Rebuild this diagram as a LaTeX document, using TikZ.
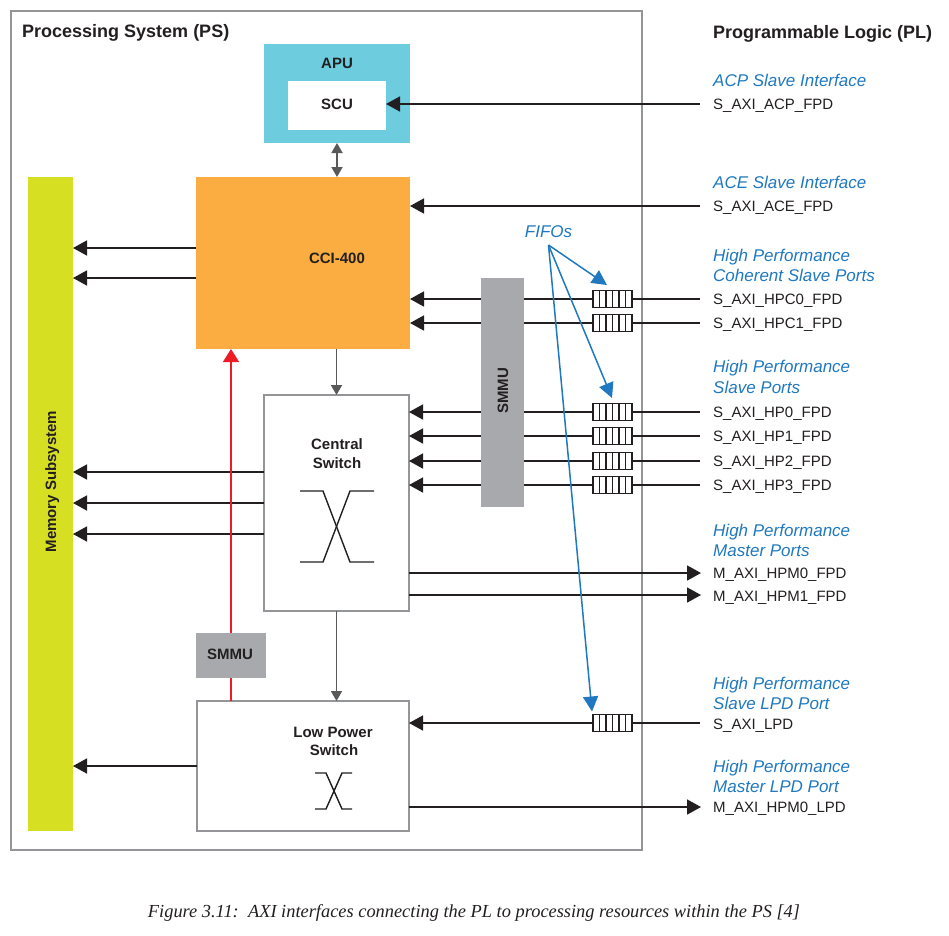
\documentclass[tikz,border=0pt]{standalone}
\usepackage{fontspec}
\usepackage{graphicx}
\setmainfont{Liberation Sans}
\newfontfamily\capfont{Liberation Serif}
\usetikzlibrary{arrows.meta}
\definecolor{ink}{HTML}{231F20}
\definecolor{apuc}{HTML}{6DCCDD}
\definecolor{ccic}{HTML}{FBAD41}
\definecolor{memc}{HTML}{D7DF23}
\definecolor{smmuc}{HTML}{A7A9AC}
\definecolor{boxline}{HTML}{939598}
\definecolor{grayarr}{HTML}{58595B}
\definecolor{redc}{HTML}{ED1C24}
\definecolor{bluec}{HTML}{2079C0}
\begin{document}
\begin{tikzpicture}[x=1pt,y=-1pt,
  blk/.style={draw=none, inner sep=0pt, outer sep=0pt, anchor=north west},
  swbox/.style={draw=boxline, line width=1.5pt, fill=white, inner sep=0pt, outer sep=0pt, anchor=north west},
  boxlbl/.style={font=\bfseries\fontsize{15}{18}\selectfont, text=ink, inner sep=0pt, anchor=base},
  title/.style={font=\bfseries\fontsize{18}{21}\selectfont, text=ink, inner sep=0pt, anchor=base west},
  port/.style={font=\fontsize{15}{18}\selectfont, text=ink, inner sep=0pt, anchor=base west},
  blbl/.style={font=\itshape\fontsize{17}{20}\selectfont, text=bluec, inner sep=0pt, anchor=base west},
  pline/.style={draw=ink, line width=1.7pt},
  inarr/.style={pline, -{Triangle[length=14pt,width=15pt]}},
  garr/.style={draw=grayarr, line width=1.8pt, -{Triangle[length=10pt,width=11pt]}},
  gdarr/.style={draw=grayarr, line width=1.8pt, {Triangle[length=10pt,width=11pt]}-{Triangle[length=10pt,width=11pt]}},
  redarr/.style={draw=redc, line width=1.5pt, -{Triangle[length=13pt,width=16pt]}},
  barr/.style={draw=bluec, line width=1.5pt, -{Triangle[length=15pt,width=15pt]}},
  cross/.style={draw=ink, line width=1.4pt},
  fifo/.style={draw=ink, line width=1.1pt, fill=white, minimum width=39pt, minimum height=17pt,
    inner sep=0pt, outer sep=0pt,
    path picture={\foreach \k in {1,...,5}{\draw[ink, line width=1.1pt]
      ([xshift=\k*6.5pt]path picture bounding box.south west) --
      ([xshift=\k*6.5pt]path picture bounding box.north west);}}}
]
\useasboundingbox (0,0) rectangle (949,935);
\fill[white] (0,0) rectangle (949,935);

% PS frame
\node[draw=boxline, line width=1.5pt, minimum width=631pt, minimum height=839pt,
  anchor=north west, inner sep=0pt] (ps) at (10,10) {};

% main blocks
\node[blk, fill=memc, minimum width=45pt, minimum height=654pt] (mem) at (28,177) {};
\node[blk, fill=apuc, minimum width=146pt, minimum height=99pt] (apu) at (264,44) {};
\node[blk, fill=white, minimum width=98pt, minimum height=49pt] (scu) at (288,81) {};
\node[blk, fill=ccic, minimum width=214pt, minimum height=172pt] (cci) at (196,177) {};
\node[swbox, minimum width=145pt, minimum height=216pt] (cs) at (264,395) {};
\node[swbox, minimum width=212pt, minimum height=130pt] (lp) at (197,701) {};

% row coordinates
\coordinate (pACP) at (700,104);
\coordinate (pACE) at (700,206);
\coordinate (pHPC0) at (700,299);
\coordinate (pHPC1) at (700,323);
\coordinate (pHP0) at (700,412);
\coordinate (pHP1) at (700,436);
\coordinate (pHP2) at (700,461);
\coordinate (pHP3) at (700,485);
\coordinate (pHPM0) at (701,573);
\coordinate (pHPM1) at (701,595);
\coordinate (pLPD) at (700,723);
\coordinate (pHPML) at (701,807);
\coordinate (m1) at (0,248);
\coordinate (m2) at (0,278);
\coordinate (m3) at (0,472);
\coordinate (m4) at (0,503);
\coordinate (m5) at (0,534);
\coordinate (m6) at (0,766);
\coordinate (redx) at (231,0);

% PL input lines
\draw[inarr] (pACP) -- (scu.east |- pACP);
\draw[inarr] (pACE) -- (cci.east |- pACE);
\draw[inarr] (pHPC0) -- (cci.east |- pHPC0);
\draw[inarr] (pHPC1) -- (cci.east |- pHPC1);
\draw[inarr] (pHP0) -- (cs.east |- pHP0);
\draw[inarr] (pHP1) -- (cs.east |- pHP1);
\draw[inarr] (pHP2) -- (cs.east |- pHP2);
\draw[inarr] (pHP3) -- (cs.east |- pHP3);
\draw[inarr] (pLPD) -- (lp.east |- pLPD);
% master outputs
\draw[inarr] (cs.east |- pHPM0) -- (pHPM0);
\draw[inarr] (cs.east |- pHPM1) -- (pHPM1);
\draw[inarr] (lp.east |- pHPML) -- (pHPML);
% to memory
\draw[inarr] (cci.west |- m1) -- (mem.east |- m1);
\draw[inarr] (cci.west |- m2) -- (mem.east |- m2);
\draw[inarr] (cs.west |- m3) -- (mem.east |- m3);
\draw[inarr] (cs.west |- m4) -- (mem.east |- m4);
\draw[inarr] (cs.west |- m5) -- (mem.east |- m5);
\draw[inarr] (lp.west |- m6) -- (mem.east |- m6);

% SMMU blocks
\node[blk, fill=smmuc, minimum width=43pt, minimum height=229pt] (smmub) at (481,278) {};
\draw[redarr] (lp.north -| redx) -- (cci.south -| redx);
\node[blk, fill=smmuc, minimum width=70pt, minimum height=45pt] (smmus) at (196,633) {};

% gray internal arrows
\draw[gdarr] (apu.south) -- (cci.north -| apu.south);
\draw[garr] (cci.south -| cs.north) -- (cs.north);
\draw[garr] (cs.south) -- (lp.north -| cs.south);

% FIFOs
\node[fifo] (fHPC0) at (612.5,299) {};
\node[fifo] (fHPC1) at (612.5,323) {};
\node[fifo] (fHP0) at (612.5,412) {};
\node[fifo] (fHP1) at (612.5,436) {};
\node[fifo] (fHP2) at (612.5,461) {};
\node[fifo] (fHP3) at (612.5,485) {};
\node[fifo] (fLPD) at (612.5,723) {};

% switch symbols
\draw[cross] (300,491) -- (323,491) -- (350,562) -- (374,562);
\draw[cross] (300,562) -- (323,562) -- (350,491) -- (374,491);
\draw[cross] (315,773) -- (326,773) -- (342,809) -- (352,809);
\draw[cross] (315,809) -- (326,809) -- (342,773) -- (352,773);

% block labels
\node[boxlbl] (tAPU) at (337,68.4) {APU};
\node[boxlbl] (tSCU) at (337,109.4) {SCU};
\node[boxlbl] (tCCI) at (337,263.4) {CCI-400};
\node[boxlbl] (tCS1) at (337,449) {Central};
\node[boxlbl] (tCS2) at (337,468) {Switch};
\node[boxlbl] (tLP1) at (333,737) {Low Power};
\node[boxlbl] (tLP2) at (334,755) {Switch};
\node[boxlbl] (tSMs) at (230,659) {SMMU};
\node[boxlbl, rotate=90] (tSMb) at (508,391) {SMMU};
\node[boxlbl, rotate=90] (tMem) at (56,481.5) {Memory Subsystem};

% titles
\node[title] (tPS) at (22,37.7) {Processing System (PS)};
\node[title] (tPL) at (713,38) {Programmable Logic (PL)};

% blue interface labels
\node[blbl] (b1) at (713,86) {ACP Slave Interface};
\node[blbl] (b2) at (713,188) {ACE Slave Interface};
\node[blbl] (b3a) at (713,261) {High Performance};
\node[blbl] (b3b) at (713,281) {Coherent Slave Ports};
\node[blbl] (b4a) at (713,372) {High Performance};
\node[blbl] (b4b) at (713,393) {Slave Ports};
\node[blbl] (b5a) at (713,536) {High Performance};
\node[blbl] (b5b) at (713,556) {Master Ports};
\node[blbl] (b6a) at (713,689) {High Performance};
\node[blbl] (b6b) at (713,709) {Slave LPD Port};
\node[blbl] (b7a) at (713,772) {High Performance};
\node[blbl] (b7b) at (713,792) {Master LPD Port};

% port names
\node[port] (n1) at (713,109.5) {S\_AXI\_ACP\_FPD};
\node[port] (n2) at (713,211.5) {S\_AXI\_ACE\_FPD};
\node[port] (n3) at (713,304.5) {S\_AXI\_HPC0\_FPD};
\node[port] (n4) at (713,328.5) {S\_AXI\_HPC1\_FPD};
\node[port] (n5) at (713,417.5) {S\_AXI\_HP0\_FPD};
\node[port] (n6) at (713,441.5) {S\_AXI\_HP1\_FPD};
\node[port] (n7) at (713,466.5) {S\_AXI\_HP2\_FPD};
\node[port] (n8) at (713,490.5) {S\_AXI\_HP3\_FPD};
\node[port] (n9) at (713,578.5) {M\_AXI\_HPM0\_FPD};
\node[port] (n10) at (713,601.5) {M\_AXI\_HPM1\_FPD};
\node[port] (n11) at (713,729.5) {S\_AXI\_LPD};
\node[port] (n12) at (713,812.5) {M\_AXI\_HPM0\_LPD};

% FIFOs callout
\node[blbl, anchor=base] (tFIFO) at (548.5,237) {FIFOs};
\coordinate (fo) at ([yshift=-8pt]tFIFO.base);
\draw[barr] (fo) -- ([xshift=-5.5pt,yshift=5.5pt]fHPC0.north);
\draw[barr] (fo) -- ([xshift=-0.5pt,yshift=5.5pt]fHP0.north);
\draw[barr] (fo) -- ([xshift=-1pt,yshift=3pt]fLPD.north west);

% caption
\node[inner sep=0pt, anchor=base, text=ink] (cap) at (474,917)
  {\resizebox{652pt}{!}{\capfont\itshape Figure 3.11:\ \ AXI interfaces connecting the PL to processing resources within the PS [4]}};
\end{tikzpicture}
\end{document}
